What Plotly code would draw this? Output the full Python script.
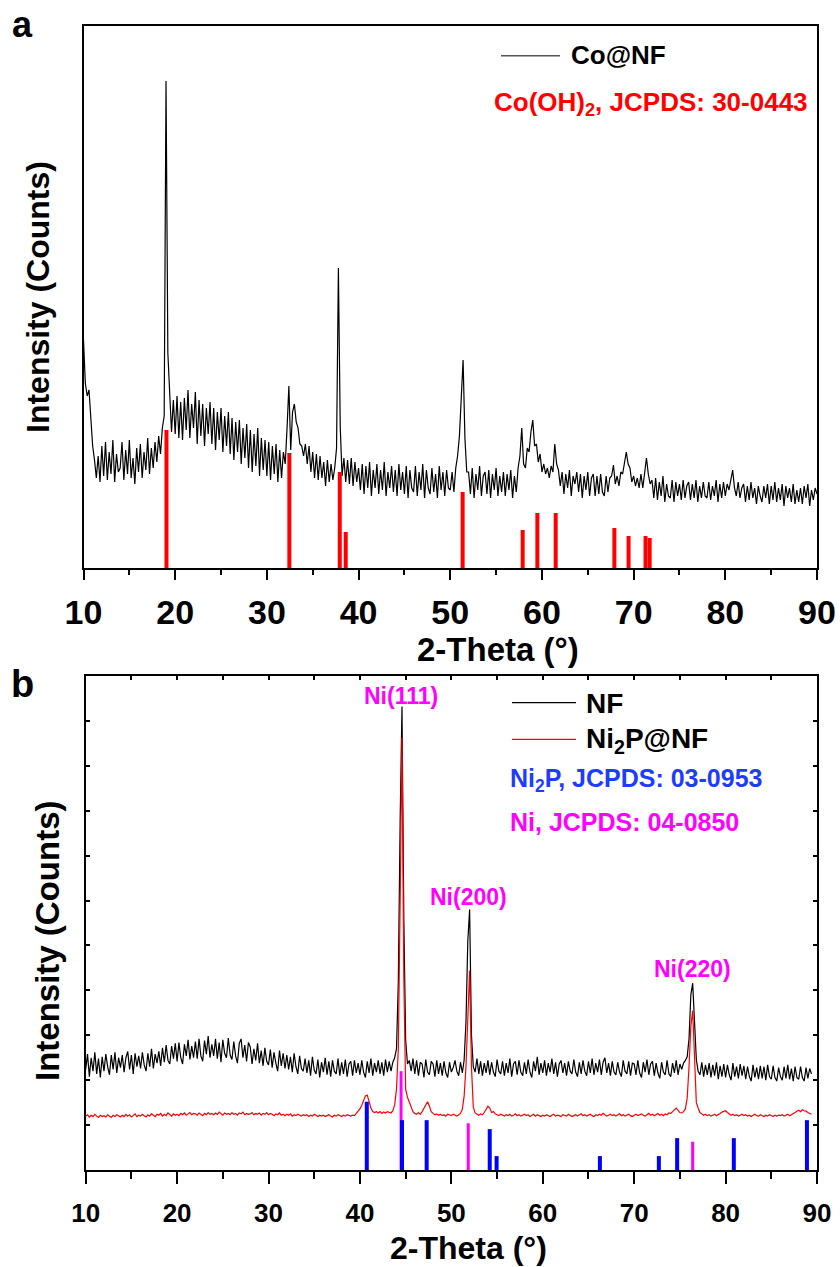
import numpy as np
import plotly.graph_objects as go

# ---------------- data ----------------
# (a) Co@NF XRD scan, 2-theta 10.0-90.0 deg, 0.2 deg step (intensity, a.u.)
co_nf = [
    228, 185, 172, 178, 150, 122, 108, 90, 112, 86,
    122, 92, 126, 88, 116, 94, 128, 86, 114, 96,
    100, 126, 88, 118, 94, 128, 90, 110, 84, 120,
    96, 124, 90, 116, 98, 130, 94, 120, 100, 126,
    106, 132, 114, 140, 152, 487, 215, 172, 136, 168,
    134, 172, 130, 166, 128, 170, 138, 178, 130, 164,
    140, 176, 124, 168, 132, 164, 122, 160, 134, 166,
    124, 160, 118, 156, 128, 160, 116, 152, 122, 156,
    114, 150, 108, 146, 116, 148, 104, 140, 110, 144,
    100, 138, 96, 134, 102, 140, 92, 130, 98, 128,
    92, 126, 88, 122, 94, 124, 86, 118, 90, 116,
    104, 140, 182, 118, 156, 164, 146, 140, 124, 122,
    112, 124, 104, 122, 96, 116, 90, 114, 88, 112,
    90, 106, 82, 108, 86, 104, 88, 100, 120, 300,
    142, 92, 110, 86, 108, 84, 110, 82, 106, 86,
    100, 78, 104, 74, 102, 80, 106, 72, 98, 80,
    104, 74, 98, 78, 106, 72, 96, 80, 102, 76,
    98, 72, 104, 78, 96, 74, 102, 70, 98, 80,
    76, 102, 72, 96, 78, 104, 70, 98, 80, 74,
    100, 76, 94, 70, 102, 78, 96, 72, 98, 80,
    78, 96, 76, 100, 112, 132, 178, 208, 130, 96,
    96, 74, 100, 70, 94, 78, 102, 72, 92, 96,
    74, 98, 70, 94, 78, 100, 72, 92, 76, 96,
    72, 94, 78, 98, 70, 92, 76, 100, 112, 140,
    104, 100, 120, 116, 136, 148, 122, 124, 106, 114,
    96, 104, 94, 100, 90, 102, 96, 124, 104, 98,
    82, 96, 74, 94, 80, 98, 72, 92, 84, 96,
    76, 94, 70, 92, 78, 96, 72, 90, 94, 72,
    92, 74, 94, 76, 72, 92, 76, 90, 92, 103,
    84, 92, 82, 96, 94, 106, 116, 104, 100, 86,
    92, 82, 90, 80, 94, 80, 98, 110, 94, 84,
    88, 70, 90, 68, 86, 72, 92, 66, 84, 72,
    70, 88, 66, 86, 72, 84, 68, 88, 70, 82,
    86, 68, 84, 70, 88, 66, 82, 70, 86, 72,
    70, 86, 68, 82, 72, 88, 66, 84, 70, 86,
    72, 84, 78, 88, 98, 80, 72, 86, 70, 80,
    84, 66, 82, 68, 86, 70, 80, 64, 82, 72,
    66, 82, 70, 84, 64, 82, 68, 86, 66, 80,
    68, 84, 62, 82, 70, 80, 66, 84, 64, 78,
    66, 80, 64, 82, 70, 84, 62, 78, 68, 80,
    74,
]

# Co(OH)2 reference pattern, JCPDS 30-0443
co_oh2_pos = [19.05, 32.45, 37.95, 38.6, 51.35, 57.9, 59.5, 61.5, 67.9, 69.45, 71.3, 71.75]
co_oh2_int = [138, 115, 96, 36, 76, 38, 55, 55, 40, 32, 32, 30]

# (b) XRD scans, 2-theta 10.0-89.4 deg, 0.2 deg step (intensity, a.u.)
nf = [
    224, 258, 208, 250, 220, 262, 214, 248, 206, 252,
    220, 258, 230, 212, 256, 224, 262, 216, 250, 228,
    256, 218, 250, 264, 224, 256, 214, 260, 230, 254,
    226, 262, 234, 220, 260, 230, 270, 226, 258, 238,
    264, 232, 272, 240, 278, 244, 236, 276, 248, 282,
    242, 284, 250, 236, 280, 254, 290, 246, 276, 250,
    286, 248, 292, 254, 242, 288, 258, 298, 250, 280,
    254, 292, 248, 284, 240, 290, 260, 250, 294, 256,
    246, 286, 254, 238, 282, 292, 250, 278, 242, 284,
    274, 236, 270, 244, 282, 238, 266, 232, 272, 242,
    234, 268, 228, 262, 238, 220, 266, 232, 260, 226,
    256, 224, 252, 218, 260, 230, 214, 254, 226, 220,
    248, 216, 244, 210, 252, 222, 214, 246, 206, 240,
    218, 250, 212, 242, 208, 244, 220, 214, 248, 210,
    240, 214, 246, 208, 236, 242, 210, 244, 216, 238,
    212, 244, 218, 206, 242, 216, 248, 210, 238, 218,
    244, 214, 240, 210, 246, 218, 242, 220, 240, 250,
    270, 420, 780, 1032, 560, 290, 236, 244, 220, 248,
    214, 244, 210, 240, 236, 206, 246, 218, 212, 242,
    236, 208, 244, 214, 238, 210, 242, 216, 206, 240,
    218, 228, 244, 220, 210, 240, 216, 245, 330, 510,
    580, 300, 230, 218, 248, 214, 242, 210, 238, 216,
    244, 212, 240, 218, 208, 246, 220, 214, 242, 210,
    238, 216, 248, 208, 236, 242, 212, 244, 218, 210,
    240, 214, 246, 218, 206, 242, 220, 252, 212, 238,
    216, 244, 210, 238, 218, 248, 214, 240, 208, 236,
    244, 216, 238, 210, 242, 220, 214, 246, 218, 208,
    240, 214, 244, 220, 210, 242, 216, 248, 212, 238,
    218, 246, 212, 240, 250, 216, 238, 210, 242, 218,
    212, 240, 218, 208, 244, 220, 214, 242, 210, 238,
    236, 212, 244, 216, 206, 240, 218, 246, 212, 236,
    242, 210, 238, 216, 204, 240, 218, 212, 244, 214,
    208, 238, 216, 244, 212, 236, 224, 238, 244, 252,
    292, 390, 416, 330, 246, 220, 212, 240, 208, 234,
    212, 238, 206, 234, 210, 240, 202, 232, 208, 236,
    206, 234, 212, 200, 238, 208, 230, 204, 236, 210,
    232, 202, 230, 208, 198, 234, 206, 228, 202, 232,
    204, 230, 200, 234, 208, 202, 232, 206, 198, 228,
    208, 200, 230, 204, 234, 202, 226, 198, 230, 206,
    202, 230, 206, 198, 228, 204, 226, 214,
]

ni2p_nf = [
    120, 123, 118, 122, 119, 124, 120, 117, 122, 119,
    121, 118, 123, 120, 117, 122, 119, 123, 120, 118,
    122, 119, 124, 120, 123, 118, 121, 125, 119, 122,
    120, 124, 121, 118, 123, 120, 125, 121, 119, 124,
    122, 126, 120, 124, 121, 127, 123, 120, 125, 122,
    124, 121, 126, 123, 127, 122, 125, 128, 123, 126,
    125, 122, 127, 124, 121, 126, 123, 128, 124, 126,
    123, 127, 124, 129, 125, 122, 127, 124, 126, 123,
    128, 124, 126, 122, 127, 125, 129, 123, 126, 124,
    125, 128, 123, 126, 124, 127, 122, 126, 124, 128,
    123, 126, 124, 121, 125, 123, 127, 122, 124, 121,
    124, 122, 125, 120, 123, 121, 124, 122, 120, 123,
    121, 123, 119, 122, 120, 124, 121, 119, 122, 120,
    122, 119, 121, 123, 120, 118, 122, 120, 123, 121,
    119, 122, 120, 123, 121, 120, 122, 121, 126, 130,
    136, 144, 155, 165, 167, 152, 138, 130, 128, 130,
    127, 130, 126, 129, 127, 130, 128, 127, 132, 145,
    180, 270, 600, 963, 430, 180, 162, 150, 138, 130,
    126, 124, 128, 124, 130, 138, 147, 152, 142, 130,
    126, 123, 125, 122, 124, 121, 123, 120, 124, 122,
    121, 124, 122, 120, 123, 126, 135, 165, 230, 360,
    444, 230, 140, 127, 124, 122, 125, 123, 128, 134,
    142, 138, 128, 130, 125, 123, 121, 124, 122, 120,
    123, 121, 124, 120, 122, 125, 121, 123, 120, 122,
    124, 121, 123, 119, 122, 124, 120, 123, 121, 119,
    122, 120, 123, 121, 119, 122, 124, 120, 122, 121,
    119, 123, 121, 120, 124, 122, 119, 121, 123, 120,
    122, 125, 121, 123, 120, 122, 124, 121, 119, 123,
    121, 124, 122, 126, 123, 120, 122, 124, 121, 123,
    120, 122, 125, 121, 123, 120, 122, 124, 121, 119,
    122, 124, 121, 123, 125, 122, 120, 123, 126, 122,
    124, 121, 123, 126, 122, 124, 121, 125, 123, 127,
    126, 129, 134, 138, 133, 128, 127, 130, 136, 160,
    230, 320, 355, 250, 150, 138, 128, 125, 122, 124,
    121, 123, 120, 122, 124, 121, 123, 126, 129, 131,
    132, 128, 125, 122, 124, 121, 123, 120, 122, 124,
    121, 123, 120, 122, 119, 122, 124, 121, 120, 123,
    121, 119, 122, 120, 123, 121, 119, 122, 120, 122,
    121, 123, 120, 122, 124, 121, 123, 126, 128, 131,
    133, 130, 134, 132, 131, 128, 126, 124,
]

# Ni2P reference pattern, JCPDS 03-0953
ni2p_pos = [40.75, 44.6, 47.3, 54.2, 54.95, 66.25, 72.7, 74.7, 80.9, 88.9]
ni2p_int = [152, 111, 111, 91, 31, 31, 31, 71, 71, 111]

# Ni reference pattern, JCPDS 04-0850
ni_pos = [44.5, 51.85, 76.4]
ni_int = [220, 104, 63]
ni_hkl = ["Ni(111)", "Ni(200)", "Ni(220)"]
ni_label_y = [1056, 609, 447]

SCAN_START, SCAN_STEP = 10.0, 0.2
tt_a = np.round(SCAN_START + SCAN_STEP * np.arange(len(co_nf)), 1)
tt_b = np.round(SCAN_START + SCAN_STEP * np.arange(len(nf)), 1)

# ---------------- helpers ----------------
W, H = 840, 1267


def fx(p):
    return p / W


def fy(p):
    return 1 - p / H


def sticks(pos, inten):
    xs, ys = [], []
    for p, v in zip(pos, inten):
        xs += [p, p, None]
        ys += [0, v, None]
    return xs, ys


SANS = "Liberation Sans, Arial, sans-serif"

fig = go.Figure()

# ---- panel a ----
fig.add_trace(go.Scatter(x=tt_a, y=co_nf, mode="lines", line=dict(color="black", width=1.2),
                         xaxis="x", yaxis="y", showlegend=False))
sx, sy = sticks(co_oh2_pos, co_oh2_int)
fig.add_trace(go.Scatter(x=sx, y=sy, mode="lines", line=dict(color="#ff0000", width=4),
                         xaxis="x", yaxis="y", showlegend=False))

# ---- panel b ----
fig.add_trace(go.Scatter(x=tt_b, y=nf, mode="lines", line=dict(color="black", width=1.2),
                         xaxis="x2", yaxis="y2", showlegend=False))
fig.add_trace(go.Scatter(x=tt_b, y=ni2p_nf, mode="lines", line=dict(color="#ff0000", width=1.2),
                         xaxis="x2", yaxis="y2", showlegend=False))
sx, sy = sticks(ni_pos, ni_int)
fig.add_trace(go.Scatter(x=sx, y=sy, mode="lines", line=dict(color="#ff00ff", width=3),
                         xaxis="x2", yaxis="y2", showlegend=False))
sx, sy = sticks(ni2p_pos, ni2p_int)
fig.add_trace(go.Scatter(x=sx, y=sy, mode="lines", line=dict(color="#0000ff", width=4),
                         xaxis="x2", yaxis="y2", showlegend=False))
# carrier for the top tick row of panel b
fig.add_trace(go.Scatter(x=[], y=[], xaxis="x3", yaxis="y2", showlegend=False, hoverinfo="skip"))

axis_common = dict(showline=True, linecolor="black", linewidth=2, mirror=True,
                   showgrid=False, zeroline=False, automargin=False)

fig.update_layout(
    template="none",
    width=W, height=H, margin=dict(l=0, r=0, t=0, b=0, pad=0, autoexpand=False),
    paper_bgcolor="white", plot_bgcolor="white", showlegend=False,
    xaxis=dict(domain=[fx(83.5), fx(817)], anchor="y", range=[10, 90], dtick=10, tick0=10,
               ticks="outside", ticklen=10, tickwidth=2, tickcolor="black",
               minor=dict(ticks="outside", ticklen=5, tickwidth=2, dtick=5, tick0=10, tickcolor="black"),
               tickfont=dict(family=SANS, size=34, color="black", weight="bold"),
               ticklabelstandoff=3,
               **axis_common),
    yaxis=dict(domain=[fy(568), fy(26)], anchor="x", range=[0, 542], ticks="",
               showticklabels=False, **axis_common),
    xaxis2=dict(domain=[fx(85.7), fx(817)], anchor="y2", range=[10, 90], dtick=10, tick0=10,
                ticks="outside", ticklen=12, tickwidth=2, tickcolor="black",
                minor=dict(ticks="outside", ticklen=7, tickwidth=2, dtick=5, tick0=10, tickcolor="black"),
                tickfont=dict(family=SANS, size=26, color="black", weight="bold"),
                ticklabelstandoff=7,
                **axis_common),
    xaxis3=dict(overlaying="x2", anchor="y2", side="top", range=[10, 90], dtick=5, tick0=10,
                ticks="inside", ticklen=4, tickwidth=2, tickcolor="black", automargin=False,
                showticklabels=False, showline=False, showgrid=False, zeroline=False),
    yaxis2=dict(domain=[fy(1170), fy(676)], anchor="x2", range=[0, 1100], dtick=100, tick0=0,
                ticks="inside", ticklen=4, tickwidth=2, tickcolor="black", automargin=False,
                showticklabels=False, showline=True, linecolor="black", linewidth=2,
                mirror="ticks", showgrid=False, zeroline=False),
)

ann = []


def text(x, y, s, size, color="black", xanchor="center", angle=0, xref="paper", yref="paper"):
    ann.append(dict(x=x, y=y, xref=xref, yref=yref, text=s, showarrow=False, xanchor=xanchor,
                    yanchor="middle", textangle=angle,
                    font=dict(family=SANS, size=size, color=color, weight="bold")))


# panel letters
text(fx(22), fy(24), "a", 36)
text(fx(22.5), fy(684), "b", 38)

# axis titles
text(fx(498), fy(649), "2-Theta (°)", 33)
text(fx(38), fy(297), "Intensity (Counts)", 32, angle=-90)
text(fx(468), fy(1248), "2-Theta (°)", 32)
text(fx(47), fy(941), "Intensity (Counts)", 33, angle=-90)

# legend, panel a
text(fx(569), fy(55), "Co@NF", 26, xanchor="left")
text(fx(492), fy(103), "Co(OH)<sub>2</sub>, JCPDS: 30-0443", 26, color="#ff0000", xanchor="left")
# legend, panel b
text(fx(584), fy(703), "NF", 28, xanchor="left")
text(fx(584), fy(740), "Ni<sub>2</sub>P@NF", 28, xanchor="left")
text(fx(508), fy(780), "Ni<sub>2</sub>P, JCPDS: 03-0953", 25, color="#1e3cff", xanchor="left")
text(fx(508), fy(822), "Ni, JCPDS: 04-0850", 25, color="#ff00ff", xanchor="left")

# peak indexing, panel b
for p, lab, ly in zip(ni_pos, ni_hkl, ni_label_y):
    text(p, ly, lab, 23, color="#ff00ff", xref="x2", yref="y2")

fig.update_layout(annotations=ann)

shapes = [
    dict(type="line", xref="paper", yref="paper", x0=fx(501), x1=fx(560), y0=fy(55.7), y1=fy(55.7),
         line=dict(color="#555555", width=1.5)),
    dict(type="line", xref="paper", yref="paper", x0=fx(512), x1=fx(576), y0=fy(702.7), y1=fy(702.7),
         line=dict(color="black", width=1.2)),
    dict(type="line", xref="paper", yref="paper", x0=fx(512), x1=fx(576), y0=fy(739.3), y1=fy(739.3),
         line=dict(color="#ff0000", width=1.2)),
]
fig.update_layout(shapes=shapes)

fig.write_html("out.html")
